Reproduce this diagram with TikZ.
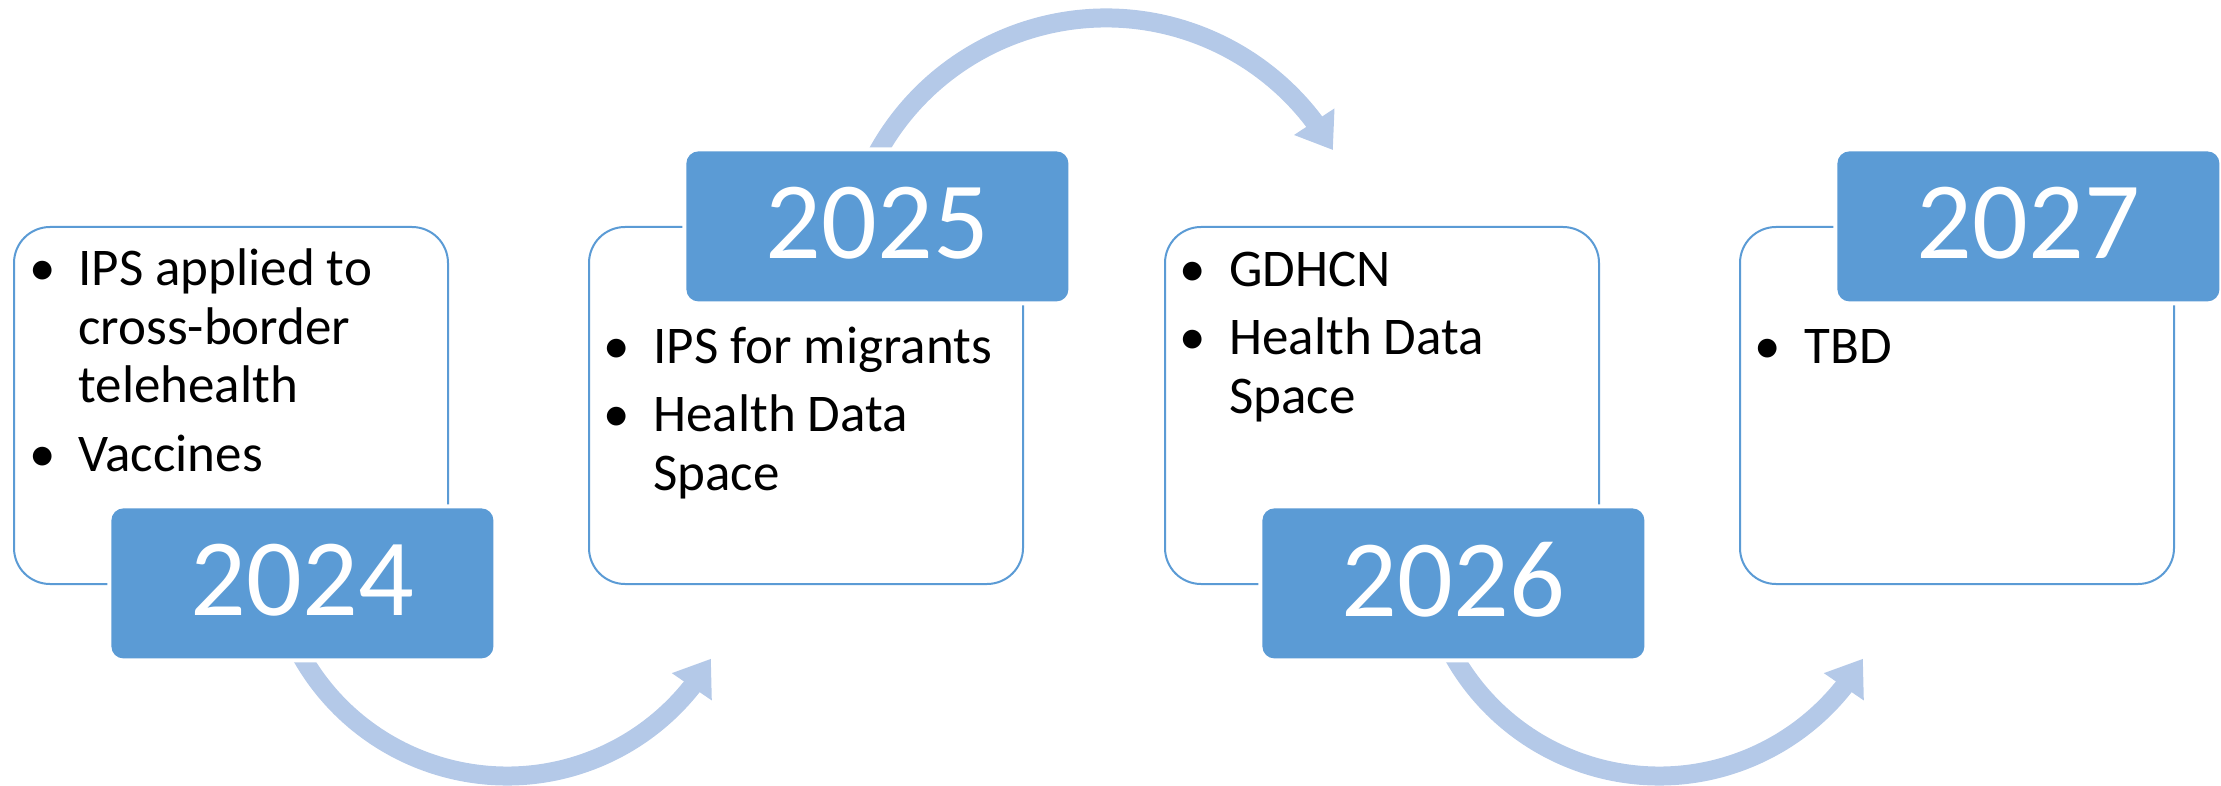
\documentclass[tikz,border=0pt]{standalone}
\usepackage{fontspec}
\setmainfont{Carlito}
\usetikzlibrary{arrows.meta,bending}
\definecolor{accent}{HTML}{5B9BD5}
\definecolor{arcblue}{HTML}{B4C9E8}
\begin{document}
\begin{tikzpicture}[x=0.5pt,y=-0.5pt,
  card/.style={draw=accent, line width=1pt, fill=white, rounded corners=18pt,
    minimum width=217pt, minimum height=178.5pt, anchor=north west, inner sep=0pt},
  yearbox/.style={fill=accent, rounded corners=6pt, minimum width=191pt,
    minimum height=75pt, anchor=north west, inner sep=0pt, text=white,
    font=\fontsize{55pt}{60pt}\selectfont, text depth=4pt,
    preaction={draw=white, line width=4pt}},
  bul/.style={anchor=base, inner sep=0pt, font=\fontsize{26.5pt}{31pt}\selectfont},
  itemtext/.style={anchor=base west, inner sep=0pt, font=\fontsize{26.5pt}{31pt}\selectfont},
  flow/.style={draw=arcblue, line width=9.5pt, -{Triangle[length=17pt,width=23pt]}}
]
\useasboundingbox (0,0) rectangle (2221,786);

% curved arrows (drawn first, partly hidden by the year boxes)
\coordinate (a1s) at ({507+236*cos(152)},{540+236*sin(152)});
\draw[flow] (a1s) arc[start angle=152, end angle=30.2, radius=236];
\coordinate (a2s) at ({1106+261*cos(205)},{279+261*sin(205)});
\draw[flow] (a2s) arc[start angle=205, end angle=330.4, radius=261];
\coordinate (a3s) at ({1659+236*cos(152)},{540+236*sin(152)});
\draw[flow] (a3s) arc[start angle=152, end angle=30.2, radius=236];

% cards
\node[card] (c1) at (13,226) {};
\node[card] (c2) at (588,226) {};
\node[card] (c3) at (1164,226) {};
\node[card] (c4) at (1739,226) {};

% card 1 text
\node[bul] (b11) at (43,285.5) {•};
\node[itemtext] (t11) at (78,285.5) {IPS applied to};
\node[itemtext] (t12) at (78,344) {cross-border};
\node[itemtext] (t13) at (78,402.5) {telehealth};
\node[bul] (b12) at (43,471) {•};
\node[itemtext] (t14) at (78,471) {Vaccines};

% card 2 text
\node[bul] (b21) at (617,363) {•};
\node[itemtext] (t21) at (653,363) {IPS for migrants};
\node[bul] (b22) at (617,431.5) {•};
\node[itemtext] (t22) at (653,431.5) {Health Data};
\node[itemtext] (t23) at (653,490) {Space};

% card 3 text
\node[bul] (b31) at (1193,286) {•};
\node[itemtext] (t31) at (1229,286) {GDHCN};
\node[bul] (b32) at (1193,354.5) {•};
\node[itemtext] (t32) at (1229,354.5) {Health Data};
\node[itemtext] (t33) at (1229,413) {Space};

% card 4 text
\node[bul] (b41) at (1768,363) {•};
\node[itemtext] (t41) at (1804,363) {TBD};

% year boxes
\node[yearbox] (y1) at (111,508) {2024};
\node[yearbox] (y2) at (686,151) {2025};
\node[yearbox] (y3) at (1262,508) {2026};
\node[yearbox] (y4) at (1837,151) {2027};
\end{tikzpicture}
\end{document}
